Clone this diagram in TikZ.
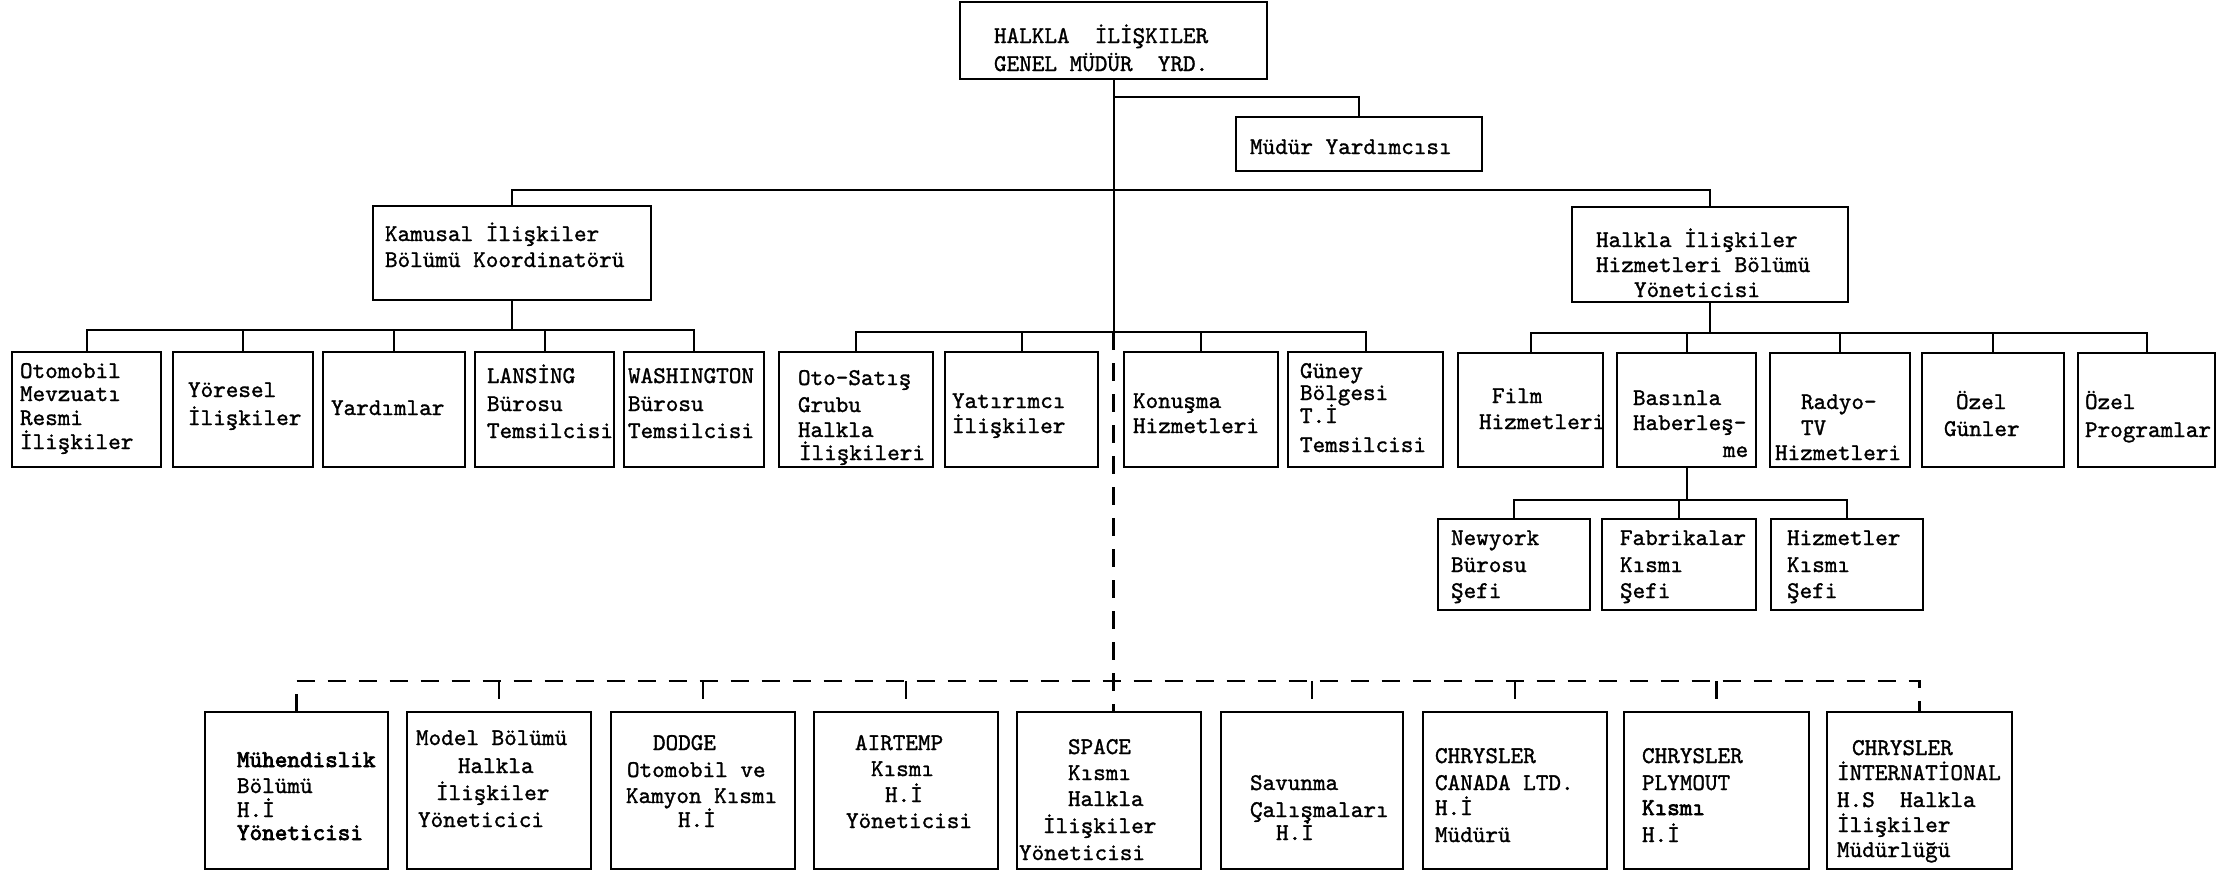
\documentclass[tikz,border=0pt]{standalone}
\usepackage{fontspec}
\newfontfamily\tw{lmmono10-regular.otf}[FakeBold=1.2]
\newfontfamily\twb{lmmono10-regular.otf}[FakeBold=3]
\begin{document}
\begin{tikzpicture}[x=1pt,y=-1pt,
  bx/.style={draw=black, line width=2.8pt, inner sep=0pt, outer sep=0pt, fill=white},
  ln/.style={draw=black, line width=2pt},
  dline/.style={draw=black, line width=2.4pt, dash pattern=on 18pt off 13pt},
  txt/.style={anchor=base west, inner sep=0pt, outer sep=0pt, font=\tw\fontsize{24}{25}\selectfont}]
\newcommand\bx[5]{\node[bx, anchor=north west, minimum width={#4-(#2)}, minimum height={#5-(#3)}] (#1) at (#2,#3) {};}
\newcommand\tl[4]{\node[txt] (#1) at (#2,#3) {#4};}
\path[use as bounding box, fill=white] (0,0) rectangle (2218,873);
% ---------- bus coordinates
\coordinate (ybus) at (0,97);
\coordinate (mainbus) at (0,190);
\coordinate (kbus) at (0,330);
\coordinate (mbus) at (0,332);
\coordinate (hbus) at (0,333);
\coordinate (sbus) at (0,500);
\coordinate (bbus) at (0,681);
% ---------- boxes
\bx{top}{960}{2}{1267}{79}
\bx{mud}{1236}{117}{1482}{171}
\bx{kam}{373}{206}{651}{300}
\bx{hh}{1572}{207}{1848}{302}
\bx{oto}{12}{352}{161}{467}
\bx{yor}{173}{352}{313}{467}
\bx{yar}{323}{352}{465}{467}
\bx{lan}{475}{352}{614}{467}
\bx{was}{624}{352}{764}{467}
\bx{sat}{779}{352}{933}{467}
\bx{yat}{945}{352}{1098}{467}
\bx{kon}{1124}{352}{1278}{467}
\bx{gun}{1288}{352}{1443}{467}
\bx{fil}{1458}{353}{1603}{467}
\bx{bas}{1617}{353}{1756}{467}
\bx{rad}{1770}{353}{1910}{467}
\bx{ozg}{1922}{353}{2064}{467}
\bx{ozp}{2078}{353}{2215}{467}
\bx{new}{1438}{519}{1590}{610}
\bx{fab}{1602}{519}{1756}{610}
\bx{hiz}{1771}{519}{1923}{610}
\bx{muh}{205}{712}{388}{869}
\bx{mod}{407}{712}{591}{869}
\bx{dod}{611}{712}{795}{869}
\bx{air}{814}{712}{998}{869}
\bx{spa}{1017}{712}{1201}{869}
\bx{sav}{1221}{712}{1403}{869}
\bx{can}{1423}{712}{1607}{869}
\bx{ply}{1624}{712}{1809}{869}
\bx{int}{1827}{712}{2012}{869}
% ---------- connectors
\draw[ln] (top.south) -- (top.south |- mbus);
\draw[dline] (top.south |- mbus) -- (top.south |- spa.north);
\draw[ln] (top.south |- ybus) -- (mud.north |- ybus) -- (mud.north);
\draw[ln] (kam.north) -- (kam.north |- mainbus) -- (hh.north |- mainbus) -- (hh.north);
% Kamusal children
\draw[ln] (kam.south) -- (kam.south |- kbus);
\draw[ln] (oto.north) -- (oto.north |- kbus) -- (was.north |- kbus) -- (was.north);
\foreach \n in {yor,yar,lan} \draw[ln] (\n.north) -- (\n.north |- kbus);
% middle children
\draw[ln] (sat.north) -- (sat.north |- mbus) -- (gun.north |- mbus) -- (gun.north);
\foreach \n in {yat,kon} \draw[ln] (\n.north) -- (\n.north |- mbus);
% Halkla children
\draw[ln] (hh.south) -- (hh.south |- hbus);
\draw[ln] (fil.north) -- (fil.north |- hbus) -- (ozp.north |- hbus) -- (ozp.north);
\foreach \n in {bas,rad,ozg} \draw[ln] (\n.north) -- (\n.north |- hbus);
% Basinla children
\draw[ln] (bas.south) -- (bas.south |- sbus);
\draw[ln] (new.north) -- (new.north |- sbus) -- (hiz.north |- sbus) -- (hiz.north);
\draw[ln] (fab.north) -- (fab.north |- sbus);
% bottom dashed
\draw[dline] (muh.north) -- (muh.north |- bbus) -- (int.north |- bbus) -- (int.north);
\foreach \n in {mod,dod,air,sav,can,ply} \draw[dline] (\n.north |- bbus) -- (\n.north);
% ---------- texts
\tl{t0a}{994}{43}{HALKLA\ \ İLİŞKILER}
\tl{t0b}{994}{71}{GENEL MÜDÜR\ \ YRD.}
\tl{tm}{1250}{154}{Müdür Yardımcısı}
\tl{tk1}{385}{241}{Kamusal İlişkiler}
\tl{tk2}{385}{267}{Bölümü Koordinatörü}
\tl{th1}{1596}{247}{Halkla İlişkiler}
\tl{th2}{1596}{272}{Hizmetleri Bölümü}
\tl{th3}{1634}{297}{Yöneticisi}
\tl{to1}{20}{378}{Otomobil}
\tl{to2}{20}{401}{Mevzuatı}
\tl{to3}{20}{425}{Resmi}
\tl{to4}{20}{449}{İlişkiler}
\tl{ty1}{188}{397}{Yöresel}
\tl{ty2}{188}{425}{İlişkiler}
\tl{tya}{331}{415}{Yardımlar}
\tl{tl1}{487}{383}{LANSİNG}
\tl{tl2}{487}{411}{Bürosu}
\tl{tl3}{487}{438}{Temsilcisi}
\tl{tw1}{628}{383}{WASHINGTON}
\tl{tw2}{628}{411}{Bürosu}
\tl{tw3}{628}{438}{Temsilcisi}
\tl{ts1}{798}{385}{Oto-Satış}
\tl{ts2}{798}{412}{Grubu}
\tl{ts3}{798}{437}{Halkla}
\tl{ts4}{799}{460}{İlişkileri}
\tl{tt1}{952}{408}{Yatırımcı}
\tl{tt2}{952}{433}{İlişkiler}
\tl{tn1}{1133}{408}{Konuşma}
\tl{tn2}{1133}{433}{Hizmetleri}
\tl{tg1}{1300}{378}{Güney}
\tl{tg2}{1300}{400}{Bölgesi}
\tl{tg3}{1300}{423}{T.İ}
\tl{tg4}{1300}{452}{Temsilcisi}
\tl{tf1}{1492}{403}{Film}
\tl{tf2}{1479}{429}{Hizmetleri}
\tl{tb1}{1633}{405}{Basınla}
\tl{tb2}{1633}{430}{Haberleş-}
\tl{tb3}{1723}{457}{me}
\tl{tr1}{1801}{409}{Radyo-}
\tl{tr2}{1801}{435}{TV}
\tl{tr3}{1775}{460}{Hizmetleri}
\tl{tz1}{1956}{409}{Özel}
\tl{tz2}{1944}{436}{Günler}
\tl{tp1}{2085}{409}{Özel}
\tl{tp2}{2085}{437}{Programlar}
\tl{ny1}{1451}{545}{Newyork}
\tl{ny2}{1451}{572}{Bürosu}
\tl{ny3}{1451}{598}{Şefi}
\tl{fb1}{1620}{545}{Fabrikalar}
\tl{fb2}{1620}{572}{Kısmı}
\tl{fb3}{1620}{598}{Şefi}
\tl{hz1}{1787}{545}{Hizmetler}
\tl{hz2}{1787}{572}{Kısmı}
\tl{hz3}{1787}{598}{Şefi}
\tl{mu1}{237}{767}{\twb Mühendislik}
\tl{mu2}{237}{793}{Bölümü}
\tl{mu3}{237}{817}{H.İ}
\tl{mu4}{237}{840}{\twb Yöneticisi}
\tl{mo1}{416}{745}{Model Bölümü}
\tl{mo2}{458}{773}{Halkla}
\tl{mo3}{436}{800}{İlişkiler}
\tl{mo4}{418}{827}{Yöneticici}
\tl{do1}{653}{750}{DODGE}
\tl{do2}{627}{777}{Otomobil ve}
\tl{do3}{626}{803}{Kamyon Kısmı}
\tl{do4}{678}{827}{H.İ}
\tl{ai1}{855}{750}{AIRTEMP}
\tl{ai2}{871}{776}{Kısmı}
\tl{ai3}{885}{802}{H.İ}
\tl{ai4}{846}{828}{Yöneticisi}
\tl{sp1}{1068}{754}{SPACE}
\tl{sp2}{1068}{780}{Kısmı}
\tl{sp3}{1068}{806}{Halkla}
\tl{sp4}{1043}{833}{İlişkiler}
\tl{sp5}{1019}{860}{Yöneticisi}
\tl{sa1}{1250}{790}{Savunma}
\tl{sa2}{1250}{817}{Çalışmaları}
\tl{sa3}{1276}{840}{H.İ}
\tl{ca1}{1435}{763}{CHRYSLER}
\tl{ca2}{1435}{790}{CANADA LTD.}
\tl{ca3}{1435}{815}{H.İ}
\tl{ca4}{1435}{842}{Müdürü}
\tl{pl1}{1642}{763}{CHRYSLER}
\tl{pl2}{1642}{790}{PLYMOUT}
\tl{pl3}{1642}{815}{\twb Kısmı}
\tl{pl4}{1642}{842}{H.İ}
\tl{in1}{1852}{755}{CHRYSLER}
\tl{in2}{1837}{780}{İNTERNATİONAL}
\tl{in3}{1837}{807}{H.S\ \ Halkla}
\tl{in4}{1837}{832}{İlişkiler}
\tl{in5}{1837}{857}{Müdürlüğü}
\end{tikzpicture}
\end{document}
